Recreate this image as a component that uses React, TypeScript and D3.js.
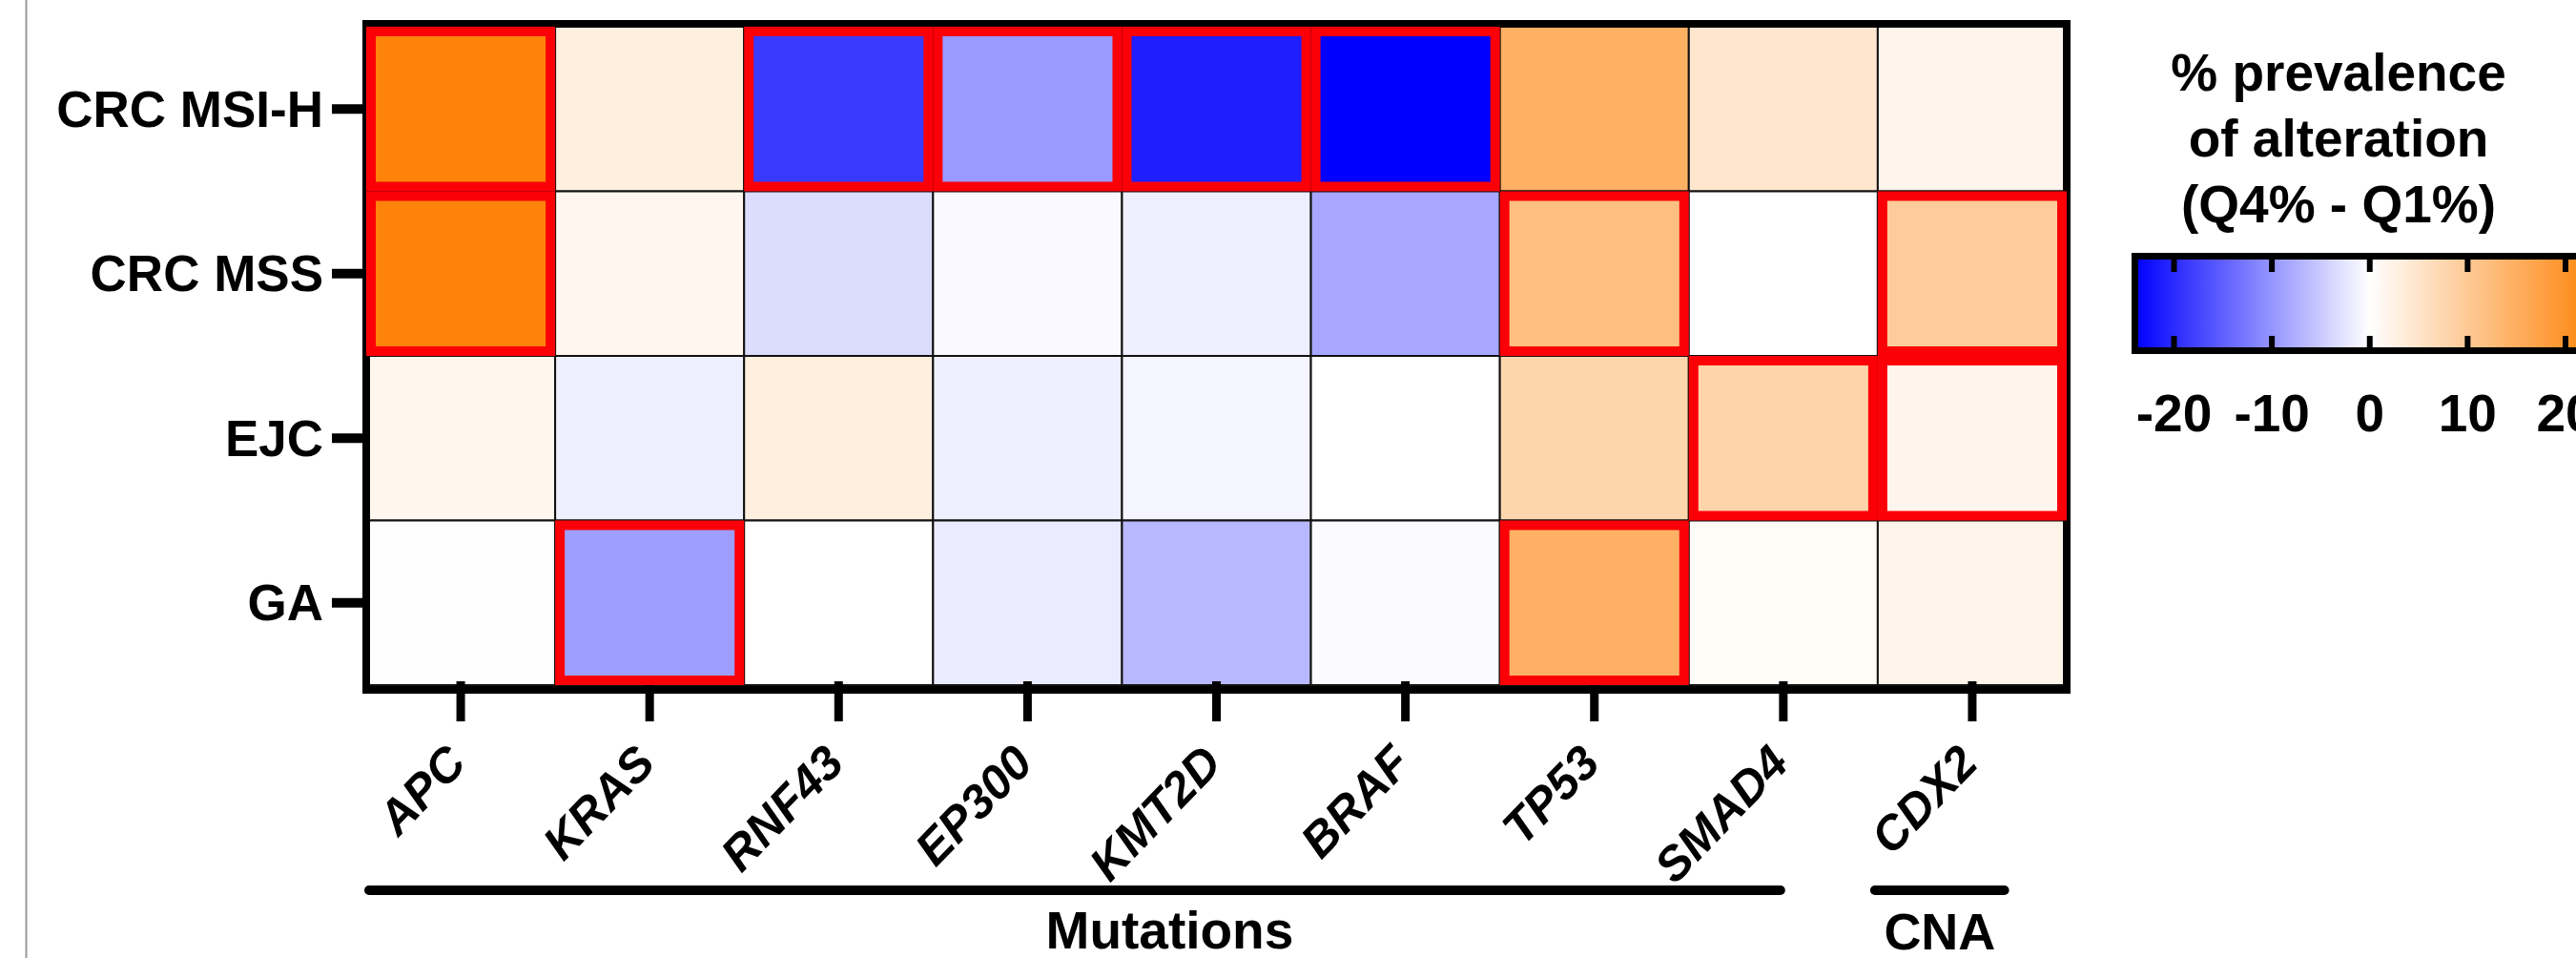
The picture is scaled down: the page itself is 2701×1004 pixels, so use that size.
import * as d3 from "d3";

// heatmap: % prevalence of alteration (Q4% - Q1%)
const groups = ["CRC MSI-H", "CRC MSS", "EJC", "GA"];
const genes = ["APC", "KRAS", "RNF43", "EP300", "KMT2D", "BRAF", "TP53", "SMAD4", "CDX2"];

const crcMsiH = [23, 3, -18.5, -9.6, -21.2, -24, 14.7, 4.5, 1.8];
const crcMss = [23, 1.5, -3.3, -0.6, -1.5, -8.3, 12, 0, 9.4];
const ejc = [1.6, -1.5, 3, -1.5, -0.9, 0, 7.7, 8, 1.8];
const ga = [-0.1, -9.1, 0, -1.9, -6.7, -0.5, 14.6, 0.8, 2.1];

// red boxes = significant cells
const sigMsiH = [1, 0, 1, 1, 1, 1, 0, 0, 0];
const sigMss = [1, 0, 0, 0, 0, 0, 1, 0, 1];
const sigEjc = [0, 0, 0, 0, 0, 0, 0, 1, 1];
const sigGa = [0, 1, 0, 0, 0, 0, 1, 0, 0];

const legendTicks = [-20, -10, 0, 10, 20];
const legendTitle = ["% prevalence", "of alteration", "(Q4% - Q1%)"];

const values = [crcMsiH, crcMss, ejc, ga];
const sigs = [sigMsiH, sigMss, sigEjc, sigGa];

const W = 2701;
const H = 1004;
const FONT = "'Liberation Sans', Arial, Helvetica, sans-serif";

const App = () => {
  const x = d3.scaleBand().domain(genes).range([384, 2167]);
  const y = d3.scaleBand().domain(groups).range([28, 718]);
  const bw = x.bandwidth();
  const bh = y.bandwidth();

  const color = d3
    .scaleLinear<string>()
    .domain([-24, 0, 24])
    .range(["#0000ff", "#ffffff", "#fd7e00"]);

  // legend scale
  const lx = d3.scaleLinear().domain([-20, 20]).range([2279.5, 2690]);
  const stops = d3.range(-24, 24.01, 2);

  const cells = groups.flatMap((g, i) =>
    genes.map((gene, j) => ({ g, gene, v: values[i][j], sig: sigs[i][j] }))
  );

  return (
    <svg
      width={W}
      height={H}
      style={{ position: "absolute", left: 0, top: 0, background: "#fff" }}
      fontFamily={FONT}
    >
      <defs>
        <linearGradient id="legendGrad" x1="0" x2="1" y1="0" y2="0">
          {stops.map((v) => (
            <stop key={v} offset={(v + 24) / 48} stopColor={color(v)} />
          ))}
        </linearGradient>
      </defs>
      <rect width={W} height={H} fill="#fff" />
      <line x1={27.5} x2={27.5} y1={0} y2={H} stroke="#999" strokeWidth={2} />

      {/* cells */}
      {cells.map((c) => (
        <rect
          key={c.g + c.gene}
          x={x(c.gene)}
          y={y(c.g)}
          width={bw}
          height={bh}
          fill={color(c.v)}
          stroke="#111"
          strokeWidth={2}
        />
      ))}

      {/* x ticks */}
      {genes.map((gene) => (
        <line
          key={gene}
          x1={x(gene)! + bw / 2}
          x2={x(gene)! + bw / 2}
          y1={714}
          y2={756}
          stroke="#000"
          strokeWidth={9}
        />
      ))}
      {/* y ticks */}
      {groups.map((g) => (
        <line
          key={g}
          x1={348}
          x2={384}
          y1={y(g)! + bh / 2}
          y2={y(g)! + bh / 2}
          stroke="#000"
          strokeWidth={10}
        />
      ))}

      {/* frame */}
      <rect x={384} y={25} width={1783} height={698} fill="none" stroke="#000" strokeWidth={8} />

      {/* significance boxes */}
      {cells
        .filter((c) => c.sig)
        .map((c) => (
          <rect
            key={"s" + c.g + c.gene}
            x={x(c.gene)! + 5}
            y={y(c.g)! + 5}
            width={bw - 10}
            height={bh - 10}
            fill="none"
            stroke="#fc0008"
            strokeWidth={10}
          />
        ))}

      {/* y labels */}
      {groups.map((g) => (
        <text
          key={g}
          x={339}
          y={y(g)! + bh / 2}
          dy="0.35em"
          textAnchor="end"
          fontSize={53}
          fontWeight="bold"
        >
          {g}
        </text>
      ))}

      {/* x labels */}
      {genes.map((gene) => {
        const tx = x(gene)! + bw / 2 + 8;
        const ty = 802;
        return (
          <text
            key={gene}
            transform={`translate(${tx},${ty}) rotate(-46)`}
            textAnchor="end"
            fontSize={50}
            fontWeight="bold"
            fontStyle="italic"
          >
            {gene}
          </text>
        );
      })}

      {/* group bars */}
      <line
        x1={x("APC")! + 3}
        x2={x("SMAD4")! + bw / 2 - 3}
        y1={933}
        y2={933}
        stroke="#000"
        strokeWidth={10}
        strokeLinecap="round"
      />
      <line
        x1={x("CDX2")! - 3}
        x2={x("CDX2")! + bw * 0.67}
        y1={933}
        y2={933}
        stroke="#000"
        strokeWidth={10}
        strokeLinecap="round"
      />
      <text x={x("KMT2D")! + 50} y={994} textAnchor="middle" fontSize={55} fontWeight="bold">
        Mutations
      </text>
      <text x={x("CDX2")! + 65} y={995} textAnchor="middle" fontSize={54} fontWeight="bold">
        CNA
      </text>

      {/* legend */}
      {legendTitle.map((t, i) => (
        <text
          key={t}
          x={2452}
          y={95 + i * 69}
          textAnchor="middle"
          fontSize={55}
          fontWeight="bold"
        >
          {t}
        </text>
      ))}
      <rect
        x={lx(-24)}
        y={268.5}
        width={lx(24) - lx(-24)}
        height={99}
        fill="url(#legendGrad)"
        stroke="#000"
        strokeWidth={7}
      />
      {legendTicks.map((t) => (
        <g key={t}>
          <line x1={lx(t)} x2={lx(t)} y1={272} y2={285} stroke="#000" strokeWidth={6} />
          <line x1={lx(t)} x2={lx(t)} y1={352} y2={365} stroke="#000" strokeWidth={6} />
          <text x={lx(t)} y={452} textAnchor="middle" fontSize={55} fontWeight="bold">
            {t}
          </text>
        </g>
      ))}
    </svg>
  );
};

export default App;
